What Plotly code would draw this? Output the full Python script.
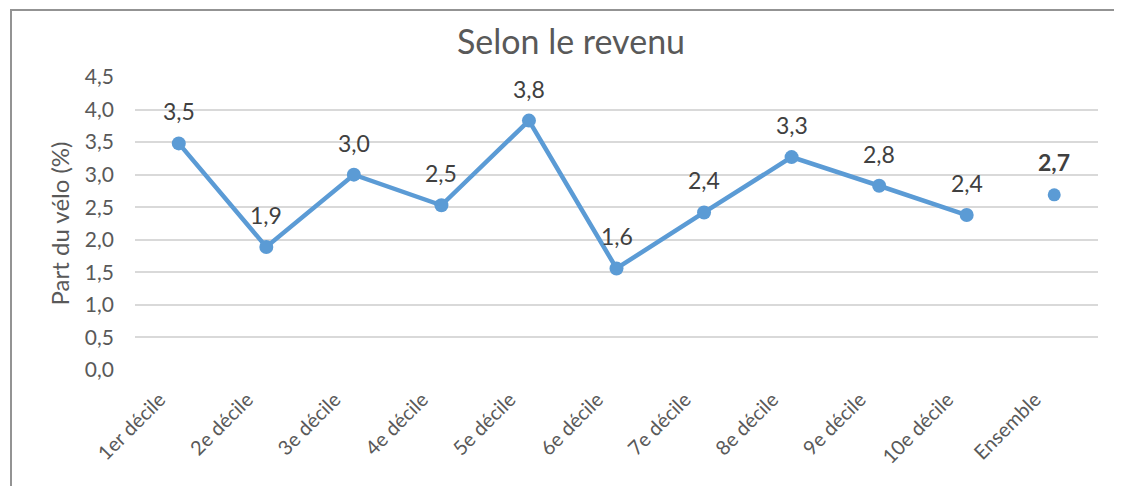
import plotly.graph_objects as go

categories = ["1er décile", "2e décile", "3e décile", "4e décile", "5e décile",
              "6e décile", "7e décile", "8e décile", "9e décile", "10e décile"]
values = [3.48, 1.89, 3.00, 2.53, 3.83, 1.56, 2.42, 3.27, 2.83, 2.38]
ensemble_label = ["Ensemble"]
ensemble_value = [2.69]
y_ticks = [0, 0.5, 1.0, 1.5, 2.0, 2.5, 3.0, 3.5, 4.0, 4.5]
y_tick_text = ["0,0", "0,5", "1,0", "1,5", "2,0", "2,5", "3,0", "3,5", "4,0", "4,5"]

FONT = "Lato"
BLUE = "#5B9BD5"
GREY = "#595959"
OFF = 8  # default body margin of the html page

def fr(v):
    return f"{v:.1f}".replace(".", ",")

all_cats = categories + ensemble_label

fig = go.Figure()
fig.add_trace(go.Scatter(
    x=categories, y=values, mode="lines+markers",
    line=dict(color=BLUE, width=4.5),
    marker=dict(color=BLUE, size=14),
    showlegend=False, hoverinfo="skip"))
fig.add_trace(go.Scatter(
    x=ensemble_label, y=ensemble_value, mode="markers",
    marker=dict(color=BLUE, size=13),
    showlegend=False, hoverinfo="skip"))

for c, v in zip(categories, values):
    fig.add_annotation(x=c, y=v, text=fr(v), showarrow=False, yshift=32,
                       yanchor="middle", font=dict(family=FONT, size=23, color="#404040"))
for c, v in zip(ensemble_label, ensemble_value):
    fig.add_annotation(x=c, y=v, text="<b>" + fr(v) + "</b>", showarrow=False, yshift=33,
                       yanchor="middle", font=dict(family=FONT, size=23, color="#404040"))

PL, PR, PT, PB = 135, 1098, 77, 370  # plot area in screen px
fig.add_annotation(xref="paper", yref="paper", x=(59 - PL) / (PR - PL), y=0.5,
                   text="Part du vélo (%)",
                   textangle=-90, showarrow=False, xanchor="center", yanchor="middle",
                   font=dict(family=FONT, size=24, color=GREY))

fig.add_shape(type="rect", xref="paper", yref="paper",
              x0=(11 - PL) / (PR - PL), x1=1.2, y0=-1.0, y1=(PB - 10) / (PB - PT),
              line=dict(color="#939393", width=2), fillcolor="rgba(0,0,0,0)", layer="below")

fig.update_layout(
    width=1122, height=486,
    margin=dict(l=PL - OFF, r=1122 - (PR - OFF), t=PT - OFF, b=486 - (PB - OFF)),
    paper_bgcolor="white", plot_bgcolor="white",
    title=dict(text="Selon le revenu", x=(571 - OFF) / 1122, xanchor="center",
               y=1 - (42 - OFF) / 486,
               yanchor="middle", font=dict(family=FONT, size=34, color=GREY)),
    xaxis=dict(categoryorder="array", categoryarray=all_cats,
               range=[-0.5, len(all_cats) - 0.5],
               tickangle=-45, tickfont=dict(family=FONT, size=20, color=GREY),
               showgrid=False, showline=False, ticks="",
               ticklabelstandoff=13, ticklabelshift=-19),
    yaxis=dict(range=[0, 4.5], tickvals=y_ticks, ticktext=y_tick_text,
               tickfont=dict(family=FONT, size=21, color=GREY),
               showgrid=True, gridcolor="#d9d9d9", gridwidth=1.5,
               zeroline=False, showline=False, ticklabelstandoff=20),
)

fig.write_html("out.html")
